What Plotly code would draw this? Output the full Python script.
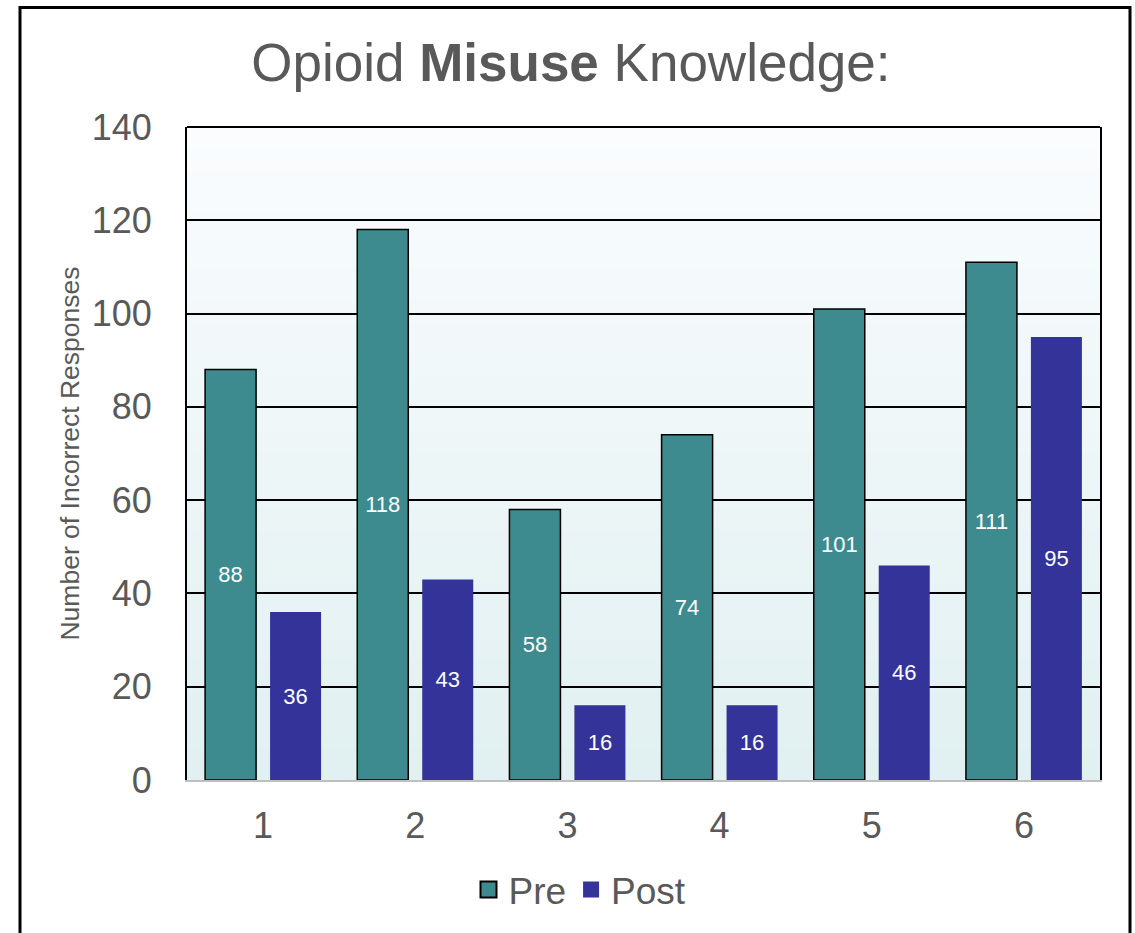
import plotly.graph_objects as go

# data
questions = ["1", "2", "3", "4", "5", "6"]
pre_counts = [88, 118, 58, 74, 101, 111]
post_counts = [36, 43, 16, 16, 46, 95]
y_ticks = [0, 20, 40, 60, 80, 100, 120, 140]

TEAL = "#3d8b8f"
NAVY = "#333399"
GREY_TXT = "#595959"

fig = go.Figure()
fig.add_trace(go.Bar(
    x=questions, y=pre_counts, name="Pre", showlegend=False,
    marker=dict(color=TEAL, line=dict(color="black", width=1.5)),
    text=pre_counts, textposition="inside", insidetextanchor="middle",
    textangle=0, textfont=dict(color="white", size=22),
))
fig.add_trace(go.Bar(
    x=questions, y=post_counts, name="Post", showlegend=False,
    marker=dict(color=NAVY, line=dict(width=0)),
    text=post_counts, textposition="inside", insidetextanchor="middle",
    textangle=0, textfont=dict(color="white", size=22),
))
# legend-only entries so the square swatches can be larger
fig.add_trace(go.Scatter(
    x=[questions[0]], y=[None], name="Pre", mode="markers",
    marker=dict(symbol="square", size=18, color=TEAL,
                line=dict(color="black", width=2)),
))
fig.add_trace(go.Scatter(
    x=[questions[0]], y=[None], name="Post", mode="markers",
    marker=dict(symbol="square", size=18, color=NAVY, line=dict(width=0)),
))

# vertical gradient behind the plot area (light at top, pale cyan at bottom)
n = 60
top_rgb = (250, 252, 254)
bot_rgb = (225, 240, 241)
for i in range(n):
    t = i / (n - 1)
    c = tuple(round(bot_rgb[k] + (top_rgb[k] - bot_rgb[k]) * t) for k in range(3))
    fig.add_shape(type="rect", xref="x domain", yref="y domain",
                  x0=0, x1=1, y0=i / n, y1=(i + 1) / n + 0.002,
                  fillcolor="rgb(%d,%d,%d)" % c, line_width=0, layer="below")

# outer frame round the whole chart
W, H = 1135, 933
L, R, T, B = 187, 35, 127, 153
pw, ph = W - L - R, H - T - B
def px_x(v):
    return (v - L) / pw
def px_y(v):
    return (H - B - v) / ph
fig.add_shape(type="rect", xref="paper", yref="paper",
              x0=px_x(20), x1=px_x(1130), y0=px_y(960), y1=px_y(7.5),
              line=dict(color="black", width=3), fillcolor="rgba(0,0,0,0)",
              layer="above")
# top border of plot area
fig.add_shape(type="line", xref="x domain", yref="y domain",
              x0=0, x1=1, y0=1, y1=1, line=dict(color="black", width=2))

fig.update_layout(
    width=W, height=H,
    margin=dict(l=L, r=R, t=T, b=B),
    paper_bgcolor="white",
    plot_bgcolor="rgba(0,0,0,0)",
    font=dict(family="Liberation Sans, Arial, sans-serif", color=GREY_TXT),
    title=dict(text="Opioid <b>Misuse</b> Knowledge:", x=0.503, xanchor="center",
               y=1 - 62 / H, yanchor="middle",
               font=dict(size=53, color=GREY_TXT)),
    barmode="group", bargap=0.146, bargroupgap=0.215,
    showlegend=True,
    legend=dict(orientation="h", x=px_x(580), xanchor="center",
                y=px_y(890), yanchor="middle",
                font=dict(size=37, color=GREY_TXT),
                itemwidth=30, tracegroupgap=0),
)
fig.update_yaxes(
    range=[0, 140], tickvals=y_ticks,
    tickfont=dict(size=36, color=GREY_TXT),
    ticklabelstandoff=26,
    showgrid=True, gridcolor="black", gridwidth=1.5,
    showline=True, linecolor="black", linewidth=2, mirror=True,
    zeroline=False,
    title=dict(text="Number of Incorrect Responses", standoff=4,
               font=dict(size=26.5, color=GREY_TXT)),
)
fig.update_xaxes(
    tickfont=dict(size=36, color=GREY_TXT),
    ticklabelstandoff=13,
    showline=True, linecolor="#bfbfbf", linewidth=2,
    showgrid=False,
)

fig.write_html("out.html", config={"displayModeBar": False},
               post_script="document.body.style.margin='0';")
